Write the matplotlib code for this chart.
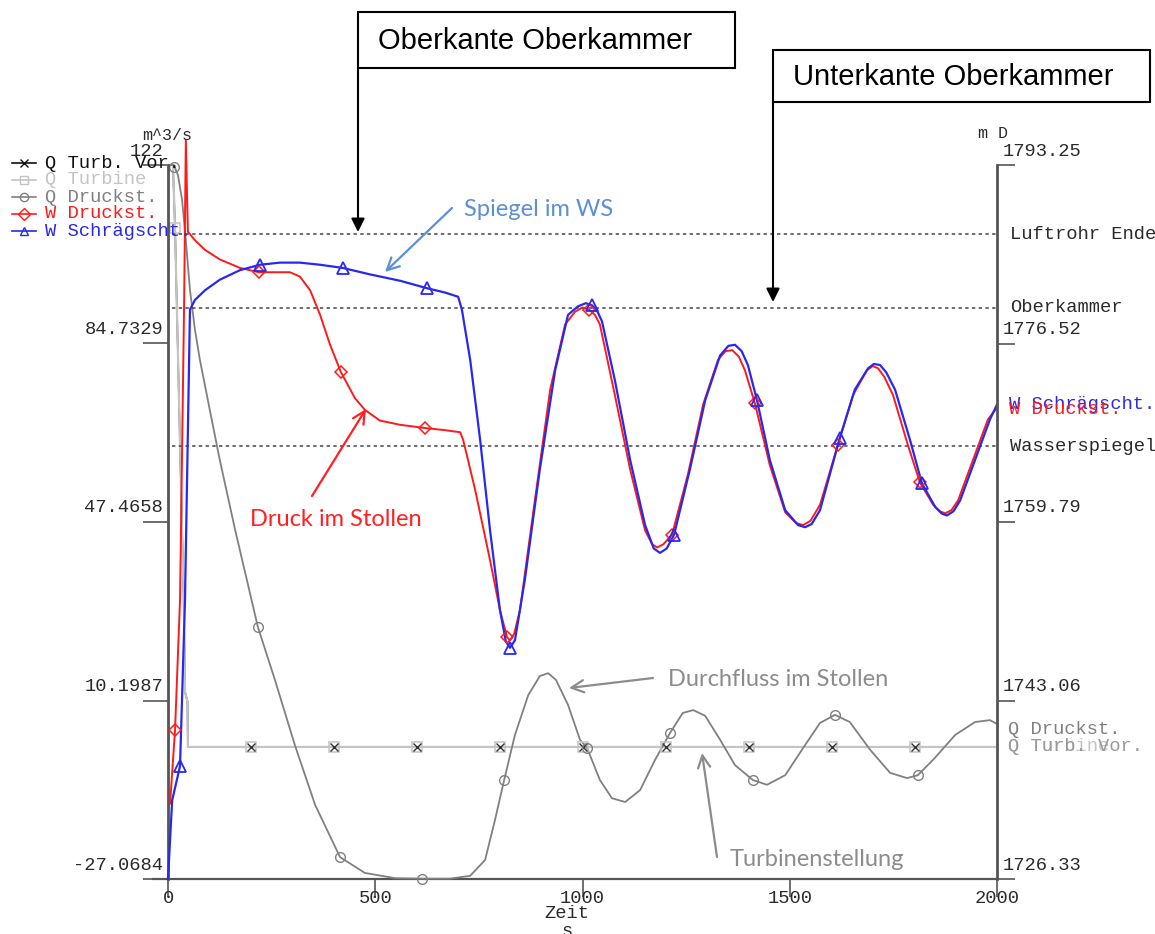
import matplotlib
matplotlib.use("Agg")
import matplotlib.pyplot as plt
from matplotlib.lines import Line2D
from matplotlib.patches import Rectangle, FancyArrowPatch

# ---- data ----
# Q Turbine / Q Turb. Vor. (m^3/s, left axis)
t_turb = [0, 12, 17, 30, 38, 41, 47, 48, 2000]
q_turb = [122, 122, 108.8, 60, 31, 12, 10, 0.5, 0.5]
t_turb_vor = [0, 12, 17, 30, 38, 41, 47, 48, 2000]
q_turb_vor = [122, 122, 108.8, 60, 31, 12, 10, 0.5, 0.5]

# Q Druckst. (m^3/s, left axis)
t_qd = [5, 14, 24, 34, 43, 53, 65, 77, 101, 125, 162, 217, 258, 306, 355, 415,
        475, 548, 613, 680, 729, 765, 789, 811, 837, 869, 897, 917, 936, 965,
        994, 1011, 1042, 1071, 1103, 1139, 1175, 1211, 1242, 1267, 1296, 1332,
        1368, 1411, 1445, 1489, 1537, 1573, 1609, 1645, 1694, 1742, 1783, 1809,
        1850, 1899, 1947, 1983, 2000]
q_qd = [122, 122, 119.9, 114.7, 106.3, 95.9, 87.6, 81.3, 70.8, 60.4, 45.8, 25.5,
        14.5, 0.9, -11.6, -22.5, -25.8, -26.9, -27.0, -27.0, -26.4, -23.1, -14.7,
        -6.4, 3.0, 11.3, 15.3, 15.9, 14.5, 9.3, 2.0, 0.3, -6.4, -10.2, -11.0,
        -8.5, -2.2, 3.4, 7.6, 8.2, 7.0, 2.0, -3.3, -6.4, -7.4, -5.4, 0.9, 5.5,
        7.2, 5.7, -0.1, -4.9, -6.0, -5.4, -1.8, 3.0, 5.7, 6.1, 5.3]

# W Druckst. (m, right axis)
t_wd = [5, 17, 29, 39, 43, 48, 65, 89, 125, 174, 219, 294, 318, 343, 367, 391,
        417, 451, 475, 511, 560, 620, 668, 705, 712, 741, 777, 801, 818, 825,
        835, 849, 885, 922, 958, 982, 1000, 1016, 1030, 1042, 1078, 1115, 1151,
        1168, 1180, 1195, 1216, 1254, 1291, 1327, 1345, 1361, 1377, 1392, 1416,
        1452, 1489, 1515, 1532, 1550, 1573, 1616, 1653, 1686, 1700, 1713, 1728,
        1749, 1785, 1814, 1846, 1862, 1875, 1890, 1906, 1942, 1978, 2000]
w_wd = [1733.4, 1740.3, 1752.5, 1780.6, 1795.6, 1787.0, 1786.2, 1785.3, 1784.4,
        1783.6, 1783.2, 1783.2, 1782.8, 1781.5, 1779.2, 1776.4, 1773.85, 1771.4,
        1770.3, 1769.3, 1768.9, 1768.6, 1768.4, 1768.2, 1767.5, 1762.8, 1756.2,
        1751.5, 1749.0, 1748.7, 1749.3, 1751.5, 1761.8, 1772.2, 1778.3, 1779.5,
        1779.9, 1779.7, 1779.2, 1778.3, 1771.7, 1764.7, 1759.0, 1757.7, 1757.4,
        1757.7, 1758.6, 1764.2, 1770.8, 1775.0, 1775.8, 1775.9, 1775.3, 1774.0,
        1770.9, 1765.1, 1760.7, 1759.7, 1759.5, 1759.9, 1761.4, 1767.0, 1771.7,
        1774.0, 1774.4, 1774.2, 1773.4, 1771.7, 1767.0, 1763.5, 1761.4, 1760.8,
        1760.6, 1760.9, 1761.8, 1765.6, 1769.4, 1770.5]

# W Schraegscht. (m, right axis)
t_ws = [0, 10, 29, 41, 53, 65, 89, 125, 174, 222, 270, 318, 367, 422, 487, 560,
        625, 668, 700, 709, 729, 753, 777, 801, 815, 825, 837, 861, 897, 934,
        965, 989, 1008, 1023, 1035, 1047, 1078, 1115, 1151, 1172, 1187, 1203,
        1221, 1259, 1296, 1332, 1352, 1368, 1384, 1399, 1421, 1452, 1489, 1520,
        1537, 1553, 1573, 1621, 1657, 1689, 1703, 1718, 1733, 1754, 1790, 1819,
        1851, 1866, 1879, 1895, 1911, 1947, 1983, 2000]
w_ws = [1726.33, 1733.7, 1736.9, 1752.5, 1779.7, 1780.6, 1781.5, 1782.5, 1783.4,
        1783.9, 1784.1, 1784.1, 1783.9, 1783.6, 1783.0, 1782.4, 1781.7, 1781.3,
        1780.9, 1779.7, 1775.0, 1767.5, 1759.0, 1751.5, 1748.6, 1748.0, 1748.7,
        1754.4, 1764.7, 1774.0, 1779.2, 1780.0, 1780.3, 1780.1, 1779.6, 1778.6,
        1773.1, 1765.6, 1759.5, 1757.3, 1756.9, 1757.3, 1758.6, 1764.7, 1771.2,
        1775.4, 1776.3, 1776.4, 1775.8, 1774.5, 1771.2, 1765.6, 1760.9, 1759.5,
        1759.3, 1759.6, 1760.9, 1767.7, 1772.2, 1774.2, 1774.6, 1774.5, 1773.8,
        1772.2, 1767.5, 1763.4, 1761.2, 1760.6, 1760.4, 1760.8, 1761.8, 1765.6,
        1769.4, 1770.8]

# marker positions
mk_vor_t = [201, 401, 601, 801, 1001, 1201, 1401, 1601, 1801]
mk_vor_q = [0.5, 0.5, 0.5, 0.5, 0.5, 0.5, 0.5, 0.5, 0.5]
mk_turb_t = [17, 201, 401, 601, 801, 1001, 1201, 1401, 1601, 1801]
mk_turb_q = [108.8, 0.5, 0.5, 0.5, 0.5, 0.5, 0.5, 0.5, 0.5, 0.5]
mk_qd_t = [14, 217, 415, 613, 811, 1011, 1211, 1411, 1609, 1809]
mk_qd_q = [121.5, 25.5, -22.5, -27.0, -6.4, 0.3, 3.4, -6.4, 7.2, -5.4]
mk_wd_t = [17, 219, 417, 620, 818, 1016, 1216, 1416, 1616, 1814]
mk_wd_w = [1740.3, 1783.2, 1773.85, 1768.6, 1749.0, 1779.7, 1758.6, 1770.9, 1767.0, 1763.5]
mk_ws_t = [29, 222, 422, 625, 825, 1023, 1221, 1421, 1621, 1819]
mk_ws_w = [1736.9, 1783.9, 1783.6, 1781.7, 1748.0, 1780.1, 1758.6, 1771.2, 1767.7, 1763.4]

# axes scales
left_ticks = [122, 84.7329, 47.4658, 10.1987, -27.0684]
left_labels = ["122", "84.7329", "47.4658", "10.1987", "-27.0684"]
right_ticks = [1793.25, 1776.52, 1759.79, 1743.06, 1726.33]
right_labels = ["1793.25", "1776.52", "1759.79", "1743.06", "1726.33"]
x_ticks = [0, 500, 1000, 1500, 2000]

# reference levels (m)
level_names = ["Luftrohr Ende", "Oberkammer", "Wasserspiegel"]
level_values = [1786.78, 1779.85, 1766.91]

legend_names = ["Q Turb. Vor.", "Q Turbine", "Q Druckst.", "W Druckst.", "W Schr\u00e4gscht."]

# ---- styling ----
C_VOR = "#111111"
C_TURB = "#c4c4c4"
C_QD = "#808080"
C_WD = "#ff1a1a"
C_WS = "#2828f0"
AX_C = "#555555"
TXT_C = "#2a2a2a"
MONO = "Liberation Mono"
FS = 13.5

W, H = 1155, 934
fig = plt.figure(figsize=(W / 100, H / 100), dpi=100)
fig.patch.set_facecolor("white")


def fx(px):
    return px / W


def fy(py):
    return 1 - py / H


ax = fig.add_axes([fx(168), fy(879), (997 - 168) / W, (879 - 165) / H])
ax2 = ax.twinx()

ax.set_xlim(0, 2000)
ax.set_ylim(-27.0684, 122)
ax2.set_ylim(1726.33, 1793.25)

for a in (ax, ax2):
    for s in a.spines.values():
        s.set_visible(False)
    a.patch.set_visible(False)
ax.spines["left"].set_visible(True)
ax.spines["left"].set_color(AX_C)
ax.spines["left"].set_linewidth(2)
ax2.spines["right"].set_visible(True)
ax2.spines["right"].set_color(AX_C)
ax2.spines["right"].set_linewidth(2)
ax.add_line(Line2D([-0.018, 1.0], [0, 0], transform=ax.transAxes, color=AX_C,
                   lw=1.6, clip_on=False))

# ticks
ax.set_yticks(left_ticks)
ax.set_yticklabels([])
ax.tick_params(axis="y", length=18, width=1.2, color=AX_C, direction="out")
ax2.set_yticks(right_ticks)
ax2.set_yticklabels([])
ax2.tick_params(axis="y", length=13, width=1.2, color=AX_C, direction="out")
ax.set_xticks(x_ticks)
ax.set_xticklabels([str(v) for v in x_ticks], fontfamily=MONO, fontsize=FS, color=TXT_C)
ax.tick_params(axis="x", length=13, width=1.2, color=AX_C, direction="out", pad=-5)

for v, lab in zip(left_ticks, left_labels):
    ax.annotate(lab, xy=(0, v), xycoords=("axes fraction", "data"), xytext=(-5, 14),
                textcoords="offset pixels", ha="right", va="center",
                fontfamily=MONO, fontsize=FS, color=TXT_C, annotation_clip=False)
for v, lab in zip(right_ticks, right_labels):
    ax2.annotate(lab, xy=(1, v), xycoords=("axes fraction", "data"), xytext=(6, 14),
                 textcoords="offset pixels", ha="left", va="center",
                 fontfamily=MONO, fontsize=FS, color=TXT_C, annotation_clip=False)

fig.text(fx(167), fy(135), "m^3/s", ha="center", va="center", fontfamily=MONO,
         fontsize=FS - 1.5, color=TXT_C)
fig.text(fx(978), fy(133), "m D", ha="left", va="center", fontfamily=MONO,
         fontsize=FS - 1.5, color=TXT_C)
fig.text(fx(567), fy(913), "Zeit", ha="center", va="center", fontfamily=MONO,
         fontsize=FS, color=TXT_C)
fig.text(fx(567), fy(931), "s", ha="center", va="center", fontfamily=MONO,
         fontsize=FS, color=TXT_C)

# reference levels
for name, lv in zip(level_names, level_values):
    ax2.plot([10, 2000], [lv, lv], color="#444444", lw=1.1, linestyle=(0, (2.2, 2.2)))
    ax2.annotate(name, xy=(1, lv), xycoords=("axes fraction", "data"), xytext=(13, 0),
                 textcoords="offset pixels", ha="left", va="center",
                 fontfamily=MONO, fontsize=FS, color=TXT_C, annotation_clip=False)

# series
ax.plot(t_turb_vor, q_turb_vor, color=C_VOR, lw=1.2, clip_on=False)
ax.plot(t_turb, q_turb, color=C_TURB, lw=1.6, clip_on=False)
ax.plot(t_qd, q_qd, color=C_QD, lw=1.3, clip_on=False)
ax2.plot(t_wd, w_wd, color=C_WD, lw=1.4, clip_on=False)
ax2.plot(t_ws, w_ws, color=C_WS, lw=1.6, clip_on=False)

ax.plot(mk_turb_t, mk_turb_q, linestyle="none", marker="s", ms=7, mfc="none",
        mec=C_TURB, mew=1.1, clip_on=False)
ax.plot(mk_vor_t, mk_vor_q, linestyle="none", marker="x", ms=6, mec="#333333",
        mew=1.0, clip_on=False)
ax.plot(mk_qd_t, mk_qd_q, linestyle="none", marker="o", ms=7, mfc="none",
        mec=C_QD, mew=1.0, clip_on=False)
ax2.plot(mk_wd_t, mk_wd_w, linestyle="none", marker="D", ms=6.5, mfc="none",
         mec=C_WD, mew=1.1, clip_on=False)
ax2.plot(mk_ws_t, mk_ws_w, linestyle="none", marker="^", ms=9, mfc="none",
         mec=C_WS, mew=1.3, clip_on=False)

# series names at right edge
ax2.annotate("W Schr\u00e4gscht.", xy=(1, w_ws[-1]), xycoords=("axes fraction", "data"),
             xytext=(12, 0), textcoords="offset pixels", ha="left", va="center",
             fontfamily=MONO, fontsize=FS, color=C_WS, annotation_clip=False)
ax2.annotate("W Druckst.", xy=(1, w_wd[-1]), xycoords=("axes fraction", "data"),
             xytext=(12, -2), textcoords="offset pixels", ha="left", va="center",
             fontfamily=MONO, fontsize=FS, color=C_WD, annotation_clip=False)
ax.annotate("Q Druckst.", xy=(1, q_qd[-1]), xycoords=("axes fraction", "data"),
            xytext=(11, -6), textcoords="offset pixels", ha="left", va="center",
            fontfamily=MONO, fontsize=FS, color=C_QD, annotation_clip=False)
ax.annotate("Q Turbine", xy=(1, q_turb[-1]), xycoords=("axes fraction", "data"),
            xytext=(11, 0), textcoords="offset pixels", ha="left", va="center",
            fontfamily=MONO, fontsize=FS, color=C_TURB, annotation_clip=False)
ax.annotate("Q Turb. Vor.", xy=(1, q_turb_vor[-1]), xycoords=("axes fraction", "data"),
            xytext=(11, 0), textcoords="offset pixels", ha="left", va="center",
            fontfamily=MONO, fontsize=FS, color="#999999", annotation_clip=False)

# legend, top left
leg_colors = [C_VOR, C_TURB, C_QD, C_WD, C_WS]
leg_markers = ["x", "s", "o", "D", "^"]
for i, (name, col, mk) in enumerate(zip(legend_names, leg_colors, leg_markers)):
    yy = fy(163 + 17 * i)
    fig.add_artist(Line2D([fx(12), fx(36)], [yy, yy], transform=fig.transFigure,
                          color=col, lw=1.2))
    fig.add_artist(Line2D([fx(24)], [yy], transform=fig.transFigure, marker=mk,
                          ms=6, mfc="none", mec=col, mew=1.0))
    fig.text(fx(45), yy, name, ha="left", va="center", fontfamily=MONO,
             fontsize=FS, color=col)

# boxed annotations with arrows
for (x0, y0, x1, y1, label, tip) in [(358, 12, 735, 68, "Oberkante Oberkammer", 232),
                                       (773, 50, 1150, 102, "Unterkante Oberkammer", 302)]:
    fig.add_artist(Rectangle((fx(x0), fy(y1)), (x1 - x0) / W, (y1 - y0) / H,
                             transform=fig.transFigure, fill=False, ec="black", lw=1.5))
    fig.text(fx(x0 + 20), fy((y0 + y1) / 2 + 1), label, ha="left", va="center",
             fontfamily="Liberation Sans", fontsize=21, color="black")
    fig.add_artist(FancyArrowPatch((fx(x0), fy(y1)), (fx(x0), fy(tip)),
                                   transform=fig.transFigure, arrowstyle="-|>",
                                   mutation_scale=20, color="black", lw=1.5,
                                   shrinkA=0, shrinkB=0))

# coloured call-outs
callouts = [
    ("Spiegel im WS", 464, 210, "#5b8fd6", (452, 208), (385, 272)),
    ("Druck im Stollen", 250, 520, "#ff2020", (312, 496), (366, 409)),
    ("Durchfluss im Stollen", 668, 680, "#8c8c8c", (653, 678), (569, 688)),
    ("Turbinenstellung", 730, 860, "#8c8c8c", (717, 857), (702, 753)),
]
for text, tx, ty, col, a0, a1 in callouts:
    fig.text(fx(tx), fy(ty), text, ha="left", va="center", fontfamily="Lato",
             fontsize=17, color=col)
    fig.add_artist(FancyArrowPatch((fx(a0[0]), fy(a0[1])), (fx(a1[0]), fy(a1[1])),
                                   transform=fig.transFigure, arrowstyle="->",
                                   mutation_scale=22, color=col, lw=1.6,
                                   shrinkA=0, shrinkB=0))

fig.savefig("out.png", dpi=100)
